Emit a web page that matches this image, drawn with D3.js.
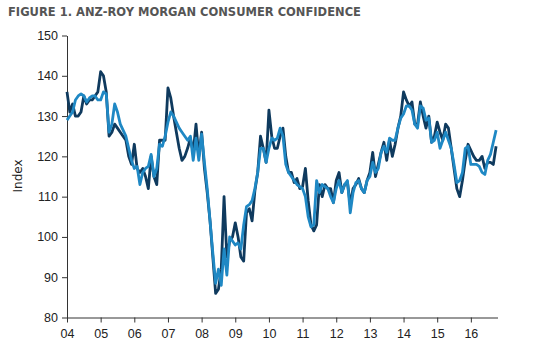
<!DOCTYPE html>
<html>
<head>
<meta charset="utf-8">
<script src="https://cdn.jsdelivr.net/npm/d3@7"></script>
<style>
  body { margin: 0; background: #fff; }
  svg { display: block; font-family: "DejaVu Sans", Verdana, sans-serif; }
  .axis path, .axis line { stroke: #333; }
  .axis text { fill: #222; font-size: 12.5px; }
</style>
</head>
<body>
<svg id="chart" width="550" height="354"></svg>
<script>
// Monthly readings, Jan 2004 - Oct 2016 (one value per month)
const startYear = 2004;
const yearLabels = ["04", "05", "06", "07", "08", "09", "10", "11", "12", "13", "14", "15", "16"];
const yTicks = [80, 90, 100, 110, 120, 130, 140, 150];

// dark line
const confidence = [
  136, 131, 133, 130, 130, 131, 135, 133, 134, 134, 135, 136,   // 2004
  141, 140, 136, 125, 126, 128, 127, 126, 125, 124, 120, 118,   // 2005
  123, 117, 116, 117, 115, 112, 120, 115, 113, 124, 124, 124,   // 2006
  137, 134.5, 130, 126, 122, 119, 120, 122, 124.5, 121, 128, 120, // 2007
  126, 117, 111, 104, 95, 86, 87, 92, 110, 95, 99, 100,         // 2008
  103.5, 100, 95, 94, 106, 107, 104, 111.5, 116, 125, 122, 118.5, // 2009
  131.5, 125, 122, 122, 125, 127, 120, 116, 116, 113.5, 114.5, 112, // 2010
  112.5, 117, 109, 103, 101.5, 103, 113, 110, 113, 112, 112, 108.5, // 2011
  114, 116, 111, 113, 113.5, 108, 112, 113, 114.5, 112, 111, 114, // 2012
  116, 121, 115, 118, 121, 123.5, 119, 124, 120, 123, 127, 130, // 2013
  136, 134, 132.5, 133.5, 128, 128, 133.5, 130, 127, 130, 123.5, 125, // 2014
  128.5, 126, 124, 128, 127, 122, 117, 112, 110, 114, 119, 123, // 2015
  121.5, 120, 119, 119, 120, 117, 118.5, 118.5, 118, 122.5      // 2016
];

// light line
const trend = [
  129, 130, 131, 134, 135, 135.5, 135, 133.5, 134.5, 135, 135, 134, // 2004
  134, 136, 135.5, 126, 128, 133, 131, 128, 126.5, 125, 122, 119, // 2005
  117, 117.5, 113, 116, 117, 117.5, 120.5, 115, 117, 123, 122.5, 125, // 2006
  128.5, 131, 130, 128.5, 127, 126, 125, 124, 125, 119, 124.5, 119, // 2007
  125.5, 118.5, 112, 104, 96, 88.5, 92, 88, 97, 90.5, 100, 99,  // 2008
  98, 98.5, 97, 103, 107.5, 108, 109, 112, 116, 122, 122, 118.5, // 2009
  122, 124.5, 124, 124.5, 127, 125, 118, 116, 115, 114, 113, 112.5, // 2010
  112, 110, 105, 102.5, 103, 114, 111, 113, 112.5, 112, 110, 108.5, // 2011
  112, 114, 111, 113, 114, 106, 111, 113.5, 114, 112, 111, 114, // 2012
  115, 118.5, 116, 117, 121, 122.5, 121, 124.5, 124, 124, 127, 129.5, // 2013
  130.5, 132.5, 132.5, 131.5, 128, 127, 132.5, 132, 129, 129.5, 123.5, 124, // 2014
  126, 122, 124, 126, 124, 122, 118, 113.5, 114, 116, 122, 122.5, // 2015
  118, 118, 118, 117.5, 116, 115.5, 119, 120.5, 123.5, 126.5    // 2016
];

const svg = d3.select("#chart");

// Title
svg.append("text")
    .attr("x", 8)
    .attr("y", 15.5)
    .attr("font-size", "11.5px")
    .attr("font-weight", "bold")
    .attr("fill", "#555")
    .text("FIGURE 1. ANZ-ROY MORGAN CONSUMER CONFIDENCE");

const x = d3.scaleLinear().domain([0, 153.5]).range([67, 497.5]);
const y = d3.scaleLinear().domain([80, 150]).range([317.5, 35.5]);

// Y axis
svg.append("g")
    .attr("class", "axis")
    .attr("transform", "translate(67,0)")
    .call(d3.axisLeft(y).tickValues(yTicks).tickSize(5).tickSizeOuter(0).tickPadding(4));

// X axis, one tick per January
svg.append("g")
    .attr("class", "axis")
    .attr("transform", "translate(0,317.5)")
    .call(d3.axisBottom(x)
        .tickValues(yearLabels.map((d, i) => i * 12))
        .tickFormat((d, i) => yearLabels[i])
        .tickSize(5).tickSizeOuter(0).tickPadding(7));

// Y label
svg.append("text")
    .attr("transform", "translate(22,176) rotate(-90)")
    .attr("text-anchor", "middle")
    .attr("font-size", "12px")
    .attr("fill", "#222")
    .text("Index");

const line = d3.line()
    .x((d, i) => x(i))
    .y(d => y(d));

svg.append("path")
    .datum(confidence)
    .attr("fill", "none")
    .attr("stroke", "#0f3a5e")
    .attr("stroke-width", 2.8)
    .attr("stroke-linejoin", "round")
    .attr("d", line);

svg.append("path")
    .datum(trend)
    .attr("fill", "none")
    .attr("stroke", "#1f88c4")
    .attr("stroke-width", 2.8)
    .attr("stroke-linejoin", "round")
    .attr("d", line);
</script>
</body>
</html>
